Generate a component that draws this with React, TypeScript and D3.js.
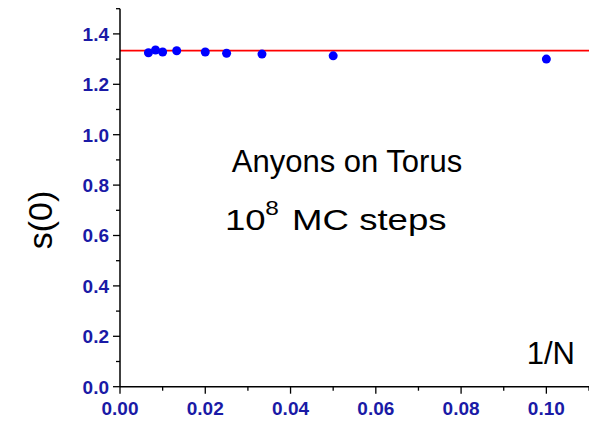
import React from 'react'
import { scaleLinear, range } from 'd3'

const invN = [0.00667, 0.00833, 0.01, 0.0133, 0.02, 0.025, 0.0333, 0.05, 0.1]
const s0 = [1.325, 1.336, 1.328, 1.333, 1.328, 1.323, 1.32, 1.313, 1.3]
const refLine = 4 / 3
const xTicks = [0, 0.02, 0.04, 0.06, 0.08, 0.1]
const yTicks = [0, 0.2, 0.4, 0.6, 0.8, 1.0, 1.2, 1.4]

const W = 589
const H = 422
const m = { left: 120, top: 7, right: 0, bottom: 35 }
const navy = '#1a1aa6'
const font = 'Liberation Sans, Arial, sans-serif'

export default function App() {
  const x = scaleLinear().domain([0, 0.11]).range([m.left, W - m.right])
  const y = scaleLinear().domain([0, 1.5]).range([386.7, 386.7 - 1.5 * 252])
  const y0 = y(0)
  return (
    <svg width={W} height={H} style={{ position: 'absolute', left: 0, top: 0, background: '#fff' }} fontFamily={font}>
      <line x1={x(0)} x2={W} y1={y(refLine)} y2={y(refLine)} stroke="#ff0000" strokeWidth={1.8} />
      {invN.map((v, i) => (
        <circle key={i} cx={x(v)} cy={y(s0[i])} r={4.5} fill="#0000ff" />
      ))}
      <line x1={m.left} x2={m.left} y1={y(1.5)} y2={y0} stroke="#000" strokeWidth={1.5} />
      <line x1={m.left} x2={W} y1={y0} y2={y0} stroke="#000" strokeWidth={1.5} />
      {range(0, 1.51, 0.1).map((t, i) => (
        <line key={i} x1={m.left - (i % 2 === 0 ? 7 : 4)} x2={m.left} y1={y(t)} y2={y(t)} stroke="#000" strokeWidth={1.3} />
      ))}
      {range(0, 0.111, 0.01).map((t, i) => (
        <line key={i} x1={x(t)} x2={x(t)} y1={y0} y2={y0 + (i % 2 === 0 ? 7 : 4)} stroke="#000" strokeWidth={1.3} />
      ))}
      {yTicks.map(t => (
        <text key={t} x={m.left - 11} y={y(t)} dy="0.36em" textAnchor="end" fontSize={19} fontWeight="bold" fill={navy}>
          {t.toFixed(1)}
        </text>
      ))}
      {xTicks.map(t => (
        <text key={t} x={x(t)} y={y0 + 28} textAnchor="middle" fontSize={19} fontWeight="bold" fill={navy}>
          {t.toFixed(2)}
        </text>
      ))}
      <text transform="translate(52,220) rotate(-90)" textAnchor="middle" fontSize={34}>s(0)</text>
      <text x={347} y={172} textAnchor="middle" fontSize={31}>Anyons on Torus</text>
      <g transform="translate(225,230) scale(1.22,1)" fontSize={30}>
        <text x={0} y={0}>10</text>
        <text x={33} y={-15} fontSize={20}>8</text>
        <text x={55} y={0}>MC steps</text>
      </g>
      <text x={575} y={364} textAnchor="end" fontSize={31}>1/N</text>
    </svg>
  )
}
